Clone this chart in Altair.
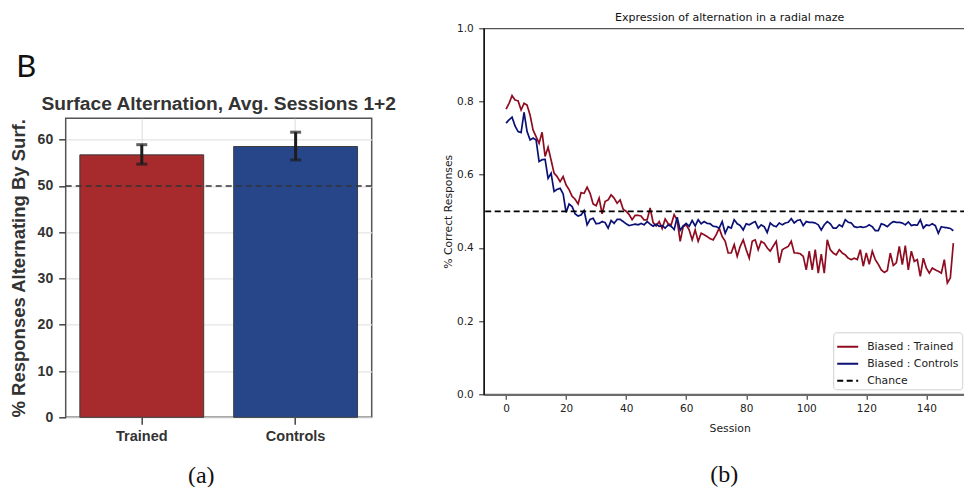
import altair as alt
import pandas as pd

# ---------------- data: panel (a) ----------------
panel_letter = "B"
bar_title = "Surface Alternation, Avg. Sessions 1+2"
bar_ylabel = "% Responses Alternating By Surf."
groups = ["Trained", "Controls"]
bar_means = [56.7, 58.5]
bar_lows = [54.7, 55.6]
bar_highs = [58.9, 61.6]
bar_colors = ["#a72a2d", "#27468a"]
bar_chance = [50]
bar_ticks = [0, 10, 20, 30, 40, 50, 60]

# ---------------- data: panel (b) ----------------
line_title = "Expression of alternation in a radial maze"
sessions = list(range(150))
trained = [
    0.779, 0.795, 0.816, 0.804, 0.802, 0.777, 0.795, 0.790, 0.763, 0.722,
    0.704, 0.686, 0.716, 0.650, 0.675, 0.640, 0.604, 0.595, 0.581, 0.595,
    0.572, 0.559, 0.541, 0.533, 0.520, 0.551, 0.549, 0.566, 0.549, 0.520,
    0.515, 0.536, 0.493, 0.527, 0.531, 0.545, 0.536, 0.522, 0.531, 0.506,
    0.500, 0.491, 0.477, 0.489, 0.489, 0.487, 0.476, 0.477, 0.509, 0.469,
    0.460, 0.472, 0.453, 0.479, 0.466, 0.463, 0.491, 0.476, 0.418, 0.458,
    0.463, 0.449, 0.422, 0.449, 0.418, 0.440, 0.436, 0.431, 0.425, 0.422,
    0.436, 0.454, 0.431, 0.418, 0.386, 0.386, 0.409, 0.377, 0.404, 0.422,
    0.395, 0.372, 0.418, 0.422, 0.395, 0.418, 0.413, 0.400, 0.391, 0.405,
    0.418, 0.359, 0.395, 0.400, 0.404, 0.418, 0.386, 0.386, 0.384, 0.377,
    0.340, 0.391, 0.340, 0.395, 0.331, 0.383, 0.331, 0.422, 0.395, 0.386,
    0.381, 0.395, 0.386, 0.381, 0.372, 0.368, 0.372, 0.368, 0.395, 0.350,
    0.386, 0.355, 0.391, 0.368, 0.355, 0.340, 0.333, 0.338, 0.386, 0.352,
    0.359, 0.404, 0.354, 0.406, 0.340, 0.391, 0.363, 0.368, 0.322, 0.372,
    0.345, 0.331, 0.345, 0.340, 0.336, 0.331, 0.368, 0.304, 0.318, 0.413,
]
controls = [
    0.741, 0.750, 0.757, 0.733, 0.718, 0.715, 0.770, 0.718, 0.695, 0.700,
    0.695, 0.636, 0.641, 0.642, 0.590, 0.604, 0.554, 0.560, 0.563, 0.548,
    0.497, 0.520, 0.513, 0.493, 0.487, 0.490, 0.502, 0.463, 0.478, 0.481,
    0.466, 0.467, 0.472, 0.469, 0.454, 0.475, 0.467, 0.478, 0.478, 0.472,
    0.466, 0.461, 0.463, 0.465, 0.463, 0.467, 0.463, 0.472, 0.465, 0.459,
    0.465, 0.459, 0.461, 0.454, 0.463, 0.459, 0.450, 0.484, 0.448, 0.460,
    0.467, 0.459, 0.475, 0.460, 0.477, 0.466, 0.472, 0.467, 0.466, 0.459,
    0.458, 0.454, 0.472, 0.440, 0.458, 0.454, 0.477, 0.466, 0.461, 0.449,
    0.466, 0.463, 0.468, 0.472, 0.454, 0.463, 0.458, 0.442, 0.468, 0.461,
    0.458, 0.468, 0.463, 0.468, 0.470, 0.480, 0.468, 0.475, 0.477, 0.461,
    0.472, 0.470, 0.470, 0.468, 0.463, 0.449, 0.463, 0.472, 0.466, 0.454,
    0.454, 0.463, 0.458, 0.477, 0.470, 0.468, 0.458, 0.456, 0.458, 0.456,
    0.458, 0.463, 0.458, 0.447, 0.447, 0.466, 0.463, 0.458, 0.466, 0.472,
    0.470, 0.470, 0.468, 0.463, 0.471, 0.461, 0.463, 0.462, 0.477, 0.454,
    0.463, 0.461, 0.466, 0.461, 0.440, 0.458, 0.456, 0.455, 0.453, 0.447,
]
series_names = ["Biased : Trained", "Biased : Controls", "Chance"]
series_colors = ["#8f0b1f", "#0b1075", "#000000"]
chance_level = [0.5]
line_yticks = [0.0, 0.2, 0.4, 0.6, 0.8, 1.0]
line_xticks = [0, 20, 40, 60, 80, 100, 120, 140]
captions = ["(a)", "(b)"]

SANS = "Liberation Sans"
DJV = "DejaVu Sans"
SERIF = "Liberation Serif"

# ---------------- panel (a) ----------------
bar_df = pd.DataFrame({"group": groups, "mean": bar_means, "low": bar_lows, "high": bar_highs})
yb_scale = alt.Scale(domain=[0, 64.6], nice=False, zero=True)
yb_axis = alt.Axis(values=bar_ticks, labelFont=SANS, labelFontWeight="bold", labelFontSize=14,
                   labelColor="#333333", tickColor="#444444", tickSize=7, tickWidth=1.5,
                   labelPadding=6, domain=False, grid=True, gridColor="#e4e4e4", gridWidth=1.3,
                   titleFont=SANS, titleFontWeight="bold", titleFontSize=18.5, titleColor="#333333",
                   titlePadding=9)
xb = alt.X("group:N", sort=groups, title=None,
           scale=alt.Scale(paddingInner=0.195, paddingOuter=0.092),
           axis=alt.Axis(labelAngle=0, labelFont=SANS, labelFontWeight="bold", labelFontSize=14.5,
                         labelColor="#333333", tickColor="#444444", tickSize=7, tickWidth=1.5,
                         labelPadding=5, domain=False, grid=True, gridColor="#e4e4e4", gridWidth=1.3))

bars = alt.Chart(bar_df).mark_bar(stroke="#3c3c3c", strokeWidth=1).encode(
    x=xb,
    y=alt.Y("mean:Q", scale=yb_scale, axis=yb_axis, title=bar_ylabel),
    fill=alt.Fill("group:N", scale=alt.Scale(domain=groups, range=bar_colors), legend=None),
)
err = alt.Chart(bar_df).mark_rule(color="#1c1c1c", strokeWidth=3).encode(
    x=xb, y=alt.Y("low:Q", scale=yb_scale, axis=yb_axis, title=bar_ylabel), y2="high:Q")
cap_lo = alt.Chart(bar_df).mark_tick(color="#1c1c1c", thickness=3, size=11).encode(
    x=xb, y=alt.Y("low:Q", scale=yb_scale, axis=yb_axis, title=bar_ylabel))
cap_hi = alt.Chart(bar_df).mark_tick(color="#1c1c1c", thickness=3, size=11).encode(
    x=xb, y=alt.Y("high:Q", scale=yb_scale, axis=yb_axis, title=bar_ylabel))
chance_a = alt.Chart(pd.DataFrame({"c": bar_chance})).mark_rule(
    color="#333333", strokeWidth=1.5, strokeDash=[6, 4]).encode(
    y=alt.Y("c:Q", scale=yb_scale, axis=yb_axis, title=bar_ylabel))
cap_a = alt.Chart(pd.DataFrame({"t": [captions[0]]})).mark_text(
    font=SERIF, fontSize=24, align="center", baseline="middle", color="#111111").encode(
    text="t:N", x=alt.value(135.5), y=alt.value(357.5))

bar_chart = alt.layer(bars, err, cap_lo, cap_hi, chance_a, cap_a).properties(
    width=306, height=299,
    title=alt.Title(bar_title, font=SANS, fontSize=19.2, fontWeight="bold", color="#333333", offset=4),
    view=alt.ViewBackground(stroke="#555555", strokeWidth=1.5),
)

spacer = alt.Chart(pd.DataFrame({"t": [panel_letter]})).mark_text(
    font="Lato", fontSize=31, align="center", baseline="alphabetic", color="#111111").encode(
    text="t:N", x=alt.value(-39.5), y=alt.value(48.4)).properties(
    width=306, height=64.5, view=alt.ViewBackground(strokeWidth=0, stroke="transparent"))

left = alt.vconcat(spacer, bar_chart, spacing=0)

# ---------------- panel (b) ----------------
n = len(sessions)
line_df = pd.DataFrame({
    "session": sessions + sessions,
    "value": trained + controls,
    "series": [series_names[0]] * n + [series_names[1]] * n,
})
chance_df = pd.DataFrame({"value": chance_level, "series": [series_names[2]]})

xs = alt.Scale(domain=[-7.45, 156.45], nice=False, zero=False)
ys = alt.Scale(domain=[0, 1], nice=False, zero=True)
x_axis = alt.Axis(values=line_xticks, labelFont=DJV, labelFontSize=10.5, labelColor="#222222",
                  tickColor="#222222", tickSize=5, tickWidth=1, labelPadding=4.5,
                  domainColor="#6b6b6b", domainWidth=2.2, grid=False,
                  titleFont=DJV, titleFontSize=10.8, titleFontWeight="normal", titleColor="#222222",
                  titlePadding=8)
y_axis = alt.Axis(values=line_yticks, format=".1f", labelFont=DJV, labelFontSize=10.5,
                  labelColor="#222222", tickColor="#222222", tickSize=5, tickWidth=1, labelPadding=5.5,
                  domainColor="#000000", domainWidth=1.3, grid=False,
                  titleFont=DJV, titleFontSize=10.8, titleFontWeight="normal", titleColor="#222222",
                  titlePadding=3.5)
color_scale = alt.Scale(domain=series_names, range=series_colors)
dash_scale = alt.Scale(domain=series_names, range=[[1, 0], [1, 0], [6, 3.5]])
legend = alt.Legend(title=None, orient="none", legendX=349.5, legendY=304,
                    fillColor="#ffffff", strokeColor="#d0d0d0", cornerRadius=3, padding=3,
                    labelFont=DJV, labelFontSize=10.8, labelColor="#222222", labelOffset=8,
                    symbolType="stroke", symbolSize=441, symbolStrokeWidth=2, rowPadding=-9)

lines = alt.Chart(line_df).mark_line(strokeWidth=1.7).encode(
    x=alt.X("session:Q", scale=xs, axis=x_axis, title="Session"),
    y=alt.Y("value:Q", scale=ys, axis=y_axis, title="% Correct Responses"),
    color=alt.Color("series:N", scale=color_scale, legend=legend),
    strokeDash=alt.StrokeDash("series:N", scale=dash_scale, legend=legend),
)
chance_b = alt.Chart(chance_df).mark_rule(strokeWidth=1.7).encode(
    y=alt.Y("value:Q", scale=ys, axis=y_axis, title="% Correct Responses"),
    color=alt.Color("series:N", scale=color_scale, legend=legend),
    strokeDash=alt.StrokeDash("series:N", scale=dash_scale, legend=legend),
)
cap_b = alt.Chart(pd.DataFrame({"t": [captions[1]]})).mark_text(
    font=SERIF, fontSize=24, align="center", baseline="middle", color="#111111").encode(
    text="t:N", x=alt.value(240.5), y=alt.value(447))

line_chart = alt.layer(lines, chance_b, cap_b).properties(
    width=492, height=366,
    title=alt.Title(line_title, font=DJV, fontSize=11, fontWeight="normal", color="#111111", offset=0),
    view=alt.ViewBackground(stroke="#555555", strokeWidth=1.2),
)

PAD_L, PAD_T = 57.7, 20.3
chart = alt.hconcat(left, line_chart, spacing=43).resolve_scale(
    color="independent", strokeDash="independent", fill="independent",
    x="independent", y="independent",
).resolve_legend(color="independent", strokeDash="independent", fill="independent").properties(
    autosize=alt.AutoSizeParams(type="none"),
    padding={"left": PAD_L, "top": PAD_T, "right": 956 - PAD_L, "bottom": 479 - PAD_T},
    background="#ffffff",
)

chart.save("out.html", embed_options={"renderer": "svg", "actions": False})
